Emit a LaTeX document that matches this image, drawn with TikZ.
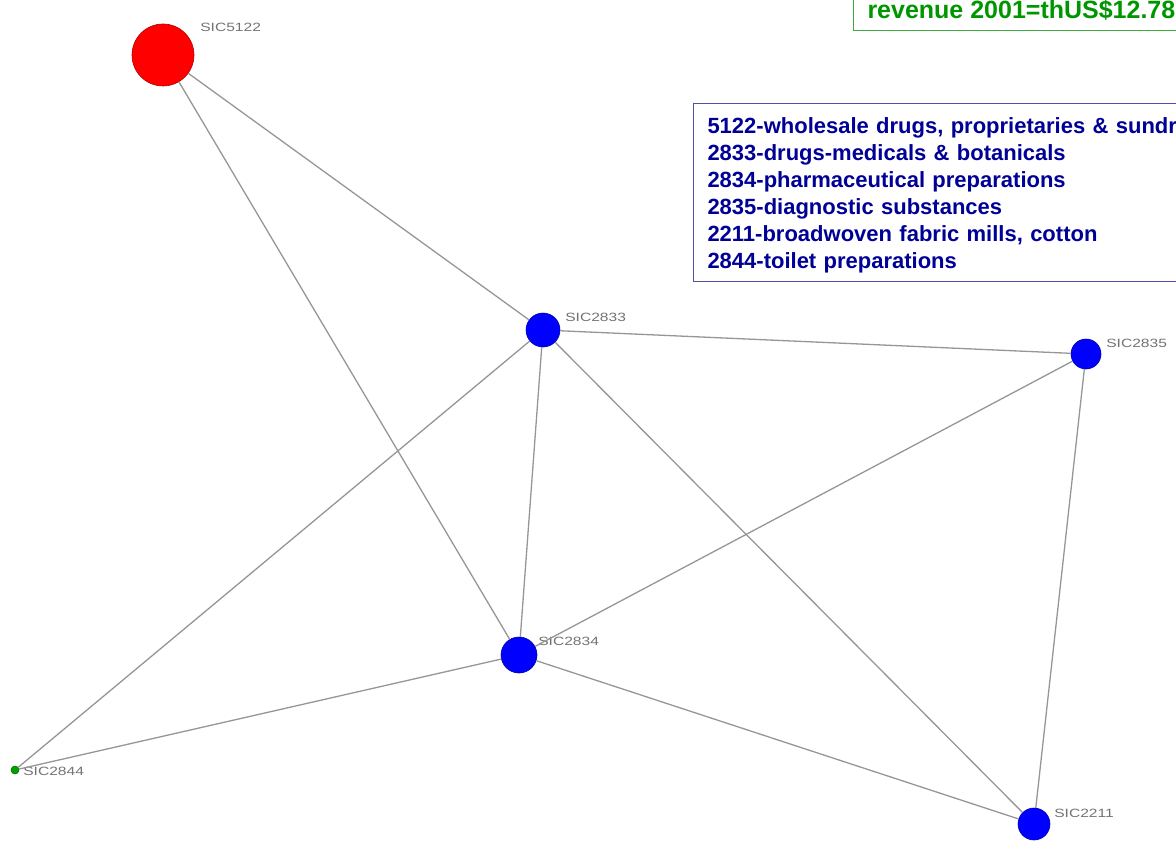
\documentclass[tikz,border=0pt]{standalone}
\usepackage{fontspec}
\setmainfont{Liberation Sans}
\usepackage{tikz}
\usetikzlibrary{positioning}
\definecolor{sicred}{RGB}{255,0,0}
\definecolor{sicblue}{RGB}{0,0,255}
\definecolor{sicgreen}{RGB}{0,160,0}
\definecolor{legblue}{RGB}{0,0,150}
\definecolor{legframe}{RGB}{80,80,170}
\definecolor{revgreen}{RGB}{0,150,0}
\definecolor{revframe}{RGB}{60,170,60}
\definecolor{linkgray}{RGB}{150,150,150}
\tikzset{
	sic/.style={circle,draw=#1!70!black,fill=#1,inner sep=0pt,line width=0.6pt},
	siclabel/.style={anchor=west,text=gray!90!black,font=\fontsize{12}{14}\selectfont,inner sep=0pt,xscale=1.3,transform shape},
	link/.style={draw=linkgray,line width=1.3pt}
}

\begin{document}
\begin{tikzpicture}[x=1pt,y=-1pt]
\useasboundingbox (0,0) rectangle (1176,843);
\clip (0,0) rectangle (1176,843);
\node[sic=sicred,minimum size=62pt]		(s5122)		at (163,55)		{};
\node[sic=sicblue,minimum size=34pt]	(s2833)		at (543,330)	{};
\node[sic=sicblue,minimum size=30pt]	(s2835)		at (1086,354)	{};
\node[sic=sicblue,minimum size=36pt]	(s2834)		at (519,655)	{};
\node[sic=sicblue,minimum size=32pt]	(s2211)		at (1034,824)	{};
\node[sic=sicgreen,minimum size=8pt]	(s2844)		at (15,770)		{};

\node[siclabel]	(l5122)	at (200,27)		{SIC5122};
\node[siclabel]	(l2833)	at (565,317)	{SIC2833};
\node[siclabel]	(l2835)	at (1106,343)	{SIC2835};
\node[siclabel]	(l2834)	at (538,641)	{SIC2834};
\node[siclabel]	(l2211)	at (1054,813)	{SIC2211};
\node[siclabel]	(l2844)	at (23,771)		{SIC2844};

\path[link]
(s5122)		edge	(s2833)
			edge	(s2834)
(s2833)		edge	(s2835)
			edge	(s2834)
			edge	(s2211)
			edge	(s2844)
(s2835)		edge	(s2834)
			edge	(s2211)
(s2834)		edge	(s2844)
			edge	(s2211)
;

% legend boxes
\node[draw=revframe,line width=1pt,anchor=south west,text=revgreen,font=\bfseries\fontsize{25}{30}\selectfont,
	inner xsep=14pt,inner ysep=3pt,text depth=9pt]	(rev)	at (853,31)	{revenue 2001=thUS\$12.78 billion};
\node[draw=legframe,line width=1pt,anchor=north west,text=legblue,align=left,text width=560pt,font=\bfseries\fontsize{22}{27}\selectfont,
	inner xsep=14pt,inner ysep=8pt]	(legend)	at (693,103)
	{\rule{0pt}{22pt}5122-wholesale drugs, proprietaries \& sundries\\
	2833-drugs-medicals \& botanicals\\
	2834-pharmaceutical preparations\\
	2835-diagnostic substances\\
	2211-broadwoven fabric mills, cotton\\
	2844-toilet preparations};
\end{tikzpicture}
\end{document}
